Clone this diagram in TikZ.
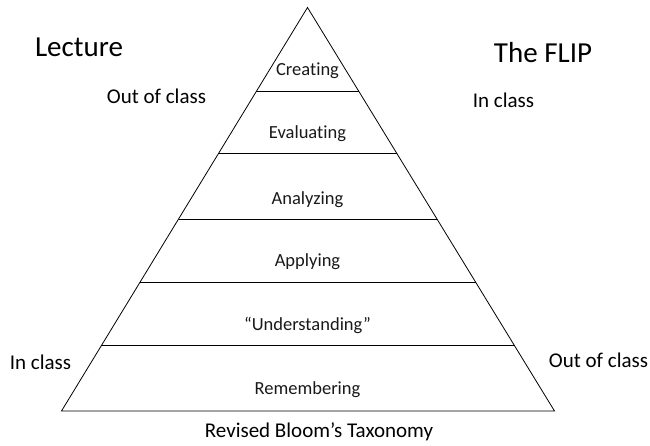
\documentclass[tikz,border=0pt]{standalone}
\usepackage{fontspec}
\setmainfont{Carlito}[Ligatures={NoCommon}]
\usetikzlibrary{calc}
\begin{document}
\begin{tikzpicture}[x=1pt,y=-1pt,
  edge/.style={line width=0.8pt,black},
  level/.style={font=\fontsize{18.5}{20}\selectfont,text=black!90,inner sep=0pt},
  side/.style={font=\fontsize{21}{24}\selectfont,inner sep=0pt},
  title/.style={font=\fontsize{29}{32}\selectfont,inner sep=0pt}]
\useasboundingbox (0,0) rectangle (650,446);
\coordinate (apex) at (307.5,7.5);
\coordinate (bl) at (61.5,411);
\coordinate (br) at (554.5,411);
\foreach \t [count=\i] in {0.2077,0.3623,0.5242,0.6810,0.8382}{
  \coordinate (l\i) at ($(apex)!\t!(bl)$);
  \coordinate (r\i) at ($(apex)!\t!(br)$);
  \draw[edge] (l\i) -- (r\i);
}
\draw[edge,line join=miter] (apex) -- (bl) -- (br) -- cycle;
\node[level] (cre) at (307.5,70.7) {Creating};
\node[level] (eva) at (307.5,134) {Evaluating};
\node[level] (ana) at (307.5,199.3) {Analyzing};
\node[level] (app) at (307.5,261.7) {Applying};
\node[level] (und) at (307.5,325) {“Understanding”};
\node[level] (rem) at (307.5,390) {Remembering};
\node[side] (rbt) at (319,432) {Revised Bloom’s Taxonomy};
\node[title] (lec) at (79,47.5) {Lecture};
\node[title] (flip) at (543,52.5) {The FLIP};
\node[side] (ocl) at (156.5,96.5) {Out of class};
\node[side] (icr) at (503.5,100) {In class};
\node[side] (icl) at (40.5,362) {In class};
\node[side] (ocr) at (598.5,360) {Out of class};
\end{tikzpicture}
\end{document}
